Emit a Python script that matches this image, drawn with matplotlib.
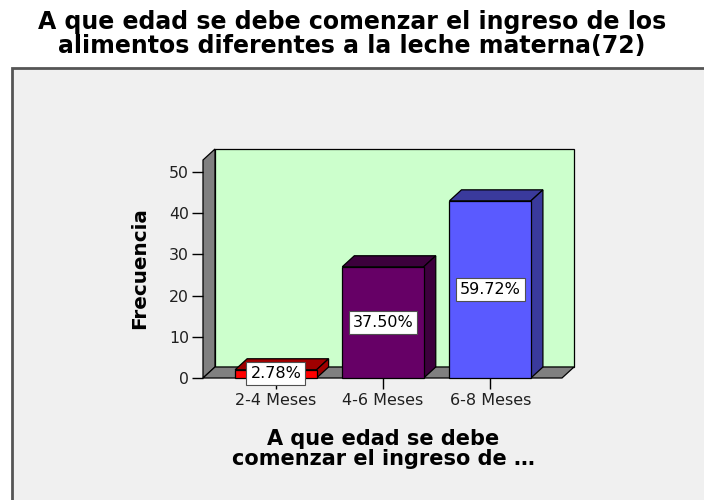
import matplotlib
matplotlib.use("Agg")
import matplotlib.pyplot as plt
from matplotlib.patches import Polygon, Rectangle
import numpy as np

categorias = ["2-4 Meses", "4-6 Meses", "6-8 Meses"]
frecuencia = [2, 27, 43]
porcentajes = ["2.78%", "37.50%", "59.72%"]
y_ticks = [0, 10, 20, 30, 40, 50]

titulo = "A que edad se debe comenzar el ingreso de los\nalimentos diferentes a la leche materna(72)"
x_titulo = "A que edad se debe\ncomenzar el ingreso de \u2026"
y_titulo = "Frecuencia"

col_front = ["#ff0000", "#660066", "#5a5aff"]
col_side = ["#a00000", "#3c003c", "#3a3a9c"]

plt.rcParams['font.family'] = ['DejaVu Sans']

W, H = 704, 500
fig = plt.figure(figsize=(W / 100, H / 100), dpi=100)
fig.patch.set_facecolor("white")

# panel
fig.patches.append(Rectangle((12 / W, -0.1), 1.2, 1 - 68 / H + 0.1, transform=fig.transFigure,
                             facecolor="#f0f0f0", edgecolor="#555555", lw=2, zorder=0))

ax_left, ax_right = 203, 562
ax_bot, ax_top = 378, 160
ax = fig.add_axes([ax_left / W, 1 - ax_bot / H, (ax_right - ax_left) / W, (ax_bot - ax_top) / H])
ax.set_facecolor("none")
ax.set_zorder(20)
ymax = (ax_bot - ax_top) / 4.12
ax.set_ylim(0, ymax)
ax.set_xlim(-0.68, 2.67)
for s in ax.spines.values():
    s.set_visible(False)

DX, DY = 12, 11  # depth offset in pixels


def pix(x, y, back=False):
    px, py = ax.transData.transform((x, y))
    if back:
        px += DX
        py += DY
    return (px, py)


def poly(pts, fc, z=2, ec="black", lw=0.9):
    p = Polygon(pts, closed=True, facecolor=fc, edgecolor=ec, lw=lw, transform=None,
                zorder=z, clip_on=False)
    fig.patches.append(p)
    return p


x0, x1 = ax.get_xlim()
y0, y1 = ax.get_ylim()
# back wall
poly([pix(x0, y0, True), pix(x1, y0, True), pix(x1, y1, True), pix(x0, y1, True)], "#ccffcc", z=1)
# left wall
poly([pix(x0, y0), pix(x0, y1), pix(x0, y1, True), pix(x0, y0, True)], "#808080", z=1)
# floor
poly([pix(x0, y0), pix(x1, y0), pix(x1, y0, True), pix(x0, y0, True)], "#808080", z=1)

bw = 0.38
for i, v in enumerate(frecuencia):
    l, r = i - bw, i + bw
    poly([pix(l, v), pix(r, v), pix(r, v, True), pix(l, v, True)], col_side[i], z=2)
    poly([pix(r, 0), pix(r, v), pix(r, v, True), pix(r, 0, True)], col_side[i], z=2)
    poly([pix(l, 0), pix(r, 0), pix(r, v), pix(l, v)], col_front[i], z=3)

for i, v in enumerate(frecuencia):
    ax.text(i, max(v / 2, 0.5), porcentajes[i], ha="center", va="center", fontsize=11.5,
            zorder=10, bbox=dict(boxstyle="square,pad=0.25", facecolor="white",
                                 edgecolor="#505050", lw=0.8))

ax.set_yticks(y_ticks)
ax.set_yticklabels([str(t) for t in y_ticks], fontsize=11.3, color="#202020")
ax.set_xticks(range(len(categorias)))
ax.set_xticklabels(categorias, fontsize=11.5, color="#202020")
ax.tick_params(axis="y", length=8, width=1, color="black", pad=2)
ax.tick_params(axis="x", length=8, width=1, color="black", pad=3, direction="out")

fig.text(140 / W, 1 - 268 / H, y_titulo, rotation=90, ha="center", va="center",
         fontsize=14.4, fontweight="bold")
fig.text(383 / W, 1 - 449 / H, x_titulo, ha="center", va="center", fontsize=15,
         fontweight="bold", linespacing=0.95)
fig.text(352 / W, 1 - 34 / H, titulo, ha="center", va="center", fontsize=17,
         fontweight="bold", linespacing=0.95)

fig.savefig("out.png", dpi=100, facecolor="white")
